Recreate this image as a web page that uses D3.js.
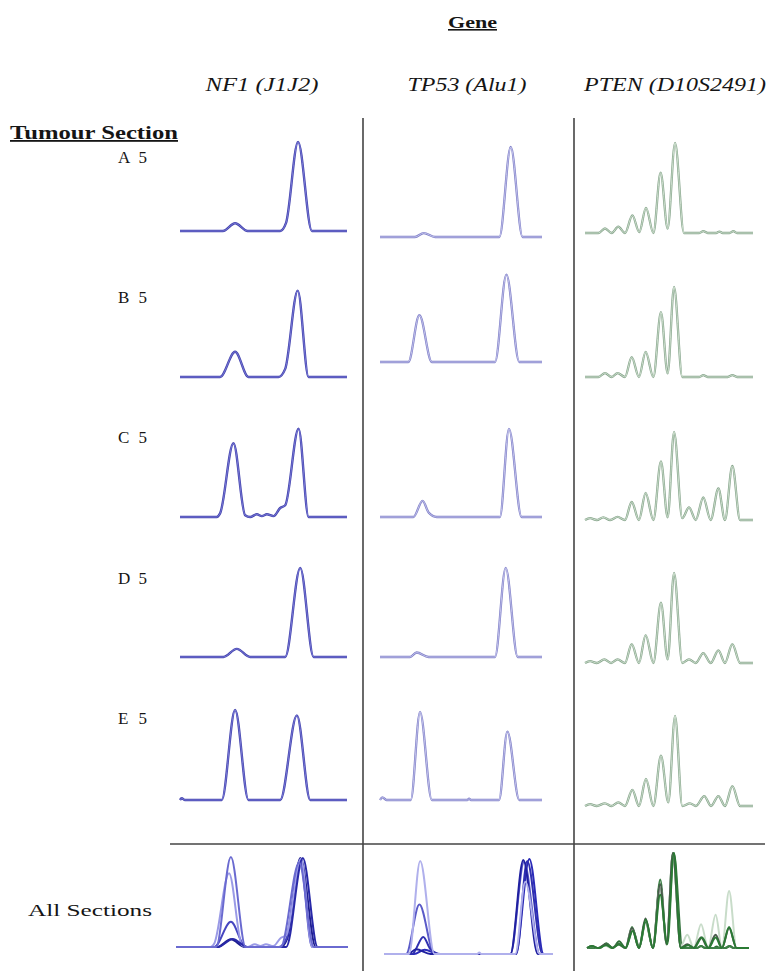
<!DOCTYPE html>
<html>
<head>
<meta charset="utf-8">
<script src="https://cdn.jsdelivr.net/npm/d3@7"></script>
<style>
body { margin: 0; background: #fff; }
text { font-family: "Liberation Serif", "Times New Roman", serif; fill: #151515; }
</style>
</head>
<body>
<svg id="chart"></svg>
<script>
// labels
var title = "Gene";
var rowTitle = "Tumour Section";
var genes = ["NF1 (J1J2)", "TP53 (Alu1)", "PTEN (D10S2491)"];
var sections = ["A 5", "B 5", "C 5", "D 5", "E 5"];
var allLabel = "All Sections";

// traces: [size position (% of window), signal (% of panel max)]
var nf1A = [[0,0],[25.7,0],[33,8.6],[40.5,0],[60,0],[63.5,9],[70.7,99],[79,0],[100,0]];
var nf1B = [[0,0],[24,0],[33,28],[41,0],[59,0],[63,9],[70.5,96],[77,0],[100,0]];
var nf1C = [[0,0],[22,0],[24,4],[32,82],[39,2],[42,0],[46,3],[49,1],[52,3],[56,1],[60,10],[63,13],[71,98],[77,0],[100,0]];
var nf1D = [[0,0],[26,0],[34,9],[42,0],[63,0],[72,99],[80,0],[100,0]];
var nf1E = [[0,0],[1,2],[3,0],[25,0],[33,100],[41,0],[60,0],[70,94],[78,0],[100,0]];

var tp53A = [[0,0],[21.6,0],[27,4.4],[34,0],[73.7,0],[80.7,100],[88,0],[100,0]];
var tp53B = [[0,0],[17.5,0],[24.3,52],[32,0],[71,0],[78,97],[86,0],[100,0]];
var tp53C = [[0,0],[20.6,0],[26.3,18],[30,5],[35,0],[74,0],[79.6,98],[87.4,0],[100,0]];
var tp53D = [[0,0],[18.5,0],[22.6,5],[30,0],[71,0],[77.6,99],[85,0],[100,0]];
var tp53E = [[0,0],[1.5,3],[4,0],[19,0],[24.7,98],[32,0],[54,0],[55,1.5],[56,0],[73.5,0],[78.6,76],[86,0],[100,0]];

var ptenA = [[0,0],[8,0],[11.9,5],[15.9,0],[19.8,7],[23.8,0],[28.2,19.5],[32.3,1],[36.3,28],[40.7,0],[45,67],[49.2,5],[53.6,100],[58.9,0],[68,0],[70.4,2],[73,0],[78,0],[80,1.5],[82,0],[86,0],[88.3,2],[90.5,0],[100,0]];
var ptenB = [[0,0],[8,0],[11.9,4.4],[15.9,0],[19.4,4.4],[23.8,0],[27.8,22],[32.1,0],[36.1,28],[40.7,0],[45.2,72],[49.2,4],[53,100],[57.9,0],[68,0],[70.4,2],[73,0],[85,0],[87.7,2],[90.5,0],[100,0]];
var ptenC = [[0,0],[3,2],[7,0],[10.9,3],[15,0],[19.4,3.5],[23.8,0],[27.8,20],[32.1,0],[36.1,30],[40.7,0],[45.2,65],[49.2,3],[53,98],[57.9,2],[61.9,14],[65.9,0],[70.4,25],[74.8,0],[79.4,35],[83.3,0],[87.7,60],[92.3,0],[100,0]];
var ptenD = [[0,0],[3,2],[7,0],[11.5,4],[15.5,0],[19.4,4],[23.8,0],[27.8,21],[32.1,0],[36.1,31],[40.7,0],[45.2,67],[49.2,4],[53,100],[57.9,0],[61.9,4],[65.9,0],[70.4,11],[74.8,0],[79.4,14],[83.3,0],[87.7,21],[92.3,0],[100,0]];
var ptenE = [[0,0],[3,2],[7,0],[11.9,3],[15.9,0],[19.8,4],[23.8,0],[28.2,18],[32.1,0],[36.3,30],[40.7,0],[45.2,56],[49.6,4],[53.6,100],[57.9,0],[62.5,3],[66,0],[71,11],[75,0],[79.4,11],[83.3,0],[87.7,22],[92.3,0],[100,0]];

var traces = [
  [nf1A, nf1B, nf1C, nf1D, nf1E],
  [tp53A, tp53B, tp53C, tp53D, tp53E],
  [ptenA, ptenB, ptenC, ptenD, ptenE]
];

var width = 774,
  height = 971;

// layout
var colX = [[180, 347], [380, 542], [585, 753]];
var rowBase = [[231, 377, 517, 657, 800], [237, 362, 517, 657, 800], [233, 377, 520, 663, 806]];
var rowPeak = 90;
var allX = [[170, 354.5], [372, 567], [587, 749]];
var allClip = [[176, 348], [384, 553], [585, 754]];
var allBase = [947, 954, 948];
var allPeak = [90, 95, 95];
var labelY = [163, 303, 443, 584, 724];
var headX = [262, 467, 675];
var headW = [113, 119, 182];

var styles = [
  {under: "#4444ae", over: "#8484de", w: 2.4},
  {under: "#8080c8", over: "#d0d0f2", w: 2.3},
  {under: "#87a58c", over: "#dcebdc", w: 2.3}
];
var overlay = [
  ["#1f1f8f", "#4646c0", "#9a9ae6", "#2828a8", "#6a6ad0"],
  ["#2a2ab8", "#5a5ac8", "#3030b0", "#2020a0", "#b0b0ec"],
  ["#2f6f38", "#3d7f46", "#c8dcc9", "#4a5a4c", "#2a7a34"]
];

var svg = d3.select("#chart")
  .attr("width", width)
  .attr("height", height);

// grid lines
svg.selectAll(".vline").data([363, 574])
  .enter().append("line")
  .attr("class", "vline")
  .attr("x1", function(d) { return d; })
  .attr("x2", function(d) { return d; })
  .attr("y1", 118)
  .attr("y2", height)
  .attr("stroke", "#444")
  .attr("stroke-width", 1.6);

svg.append("line")
  .attr("x1", 170).attr("x2", 765)
  .attr("y1", 844).attr("y2", 844)
  .attr("stroke", "#444")
  .attr("stroke-width", 1.6);

// titles
svg.append("text")
  .attr("x", 448).attr("y", 28)
  .attr("textLength", 49)
  .attr("lengthAdjust", "spacingAndGlyphs")
  .style("font-size", "16px")
  .style("font-weight", "bold")
  .style("text-decoration", "underline")
  .text(title);

svg.selectAll(".gene").data(genes)
  .enter().append("text")
  .attr("class", "gene")
  .attr("x", function(d, i) { return headX[i] - headW[i] / 2; })
  .attr("y", 91)
  .attr("textLength", function(d, i) { return headW[i]; })
  .attr("lengthAdjust", "spacingAndGlyphs")
  .style("font-size", "18px")
  .style("font-style", "italic")
  .text(function(d) { return d; });

svg.append("text")
  .attr("x", 10).attr("y", 139)
  .attr("textLength", 168)
  .attr("lengthAdjust", "spacingAndGlyphs")
  .style("font-size", "18px")
  .style("font-weight", "bold")
  .style("text-decoration", "underline")
  .text(rowTitle);

svg.selectAll(".sec").data(sections)
  .enter().append("text")
  .attr("class", "sec")
  .attr("x", 118)
  .attr("y", function(d, i) { return labelY[i]; })
  .attr("textLength", 29)
  .attr("lengthAdjust", "spacing")
  .style("font-size", "17px")
  .text(function(d) { return d; });

svg.append("text")
  .attr("x", 28).attr("y", 916)
  .attr("textLength", 124)
  .attr("lengthAdjust", "spacingAndGlyphs")
  .style("font-size", "17px")
  .text(allLabel);

// single-section traces
genes.forEach(function(gene, g) {
  sections.forEach(function(sec, s) {
    var x = d3.scaleLinear().domain([0, 100]).range(colX[g]);
    var y = d3.scaleLinear().domain([0, 100]).range([rowBase[g][s], rowBase[g][s] - rowPeak]);
    var line = d3.line()
      .x(function(d) { return x(d[0]); })
      .y(function(d) { return y(d[1]); })
      .curve(d3.curveMonotoneX);
    var cell = svg.append("g").attr("class", "cell");
    cell.append("path")
      .attr("d", line(traces[g][s]))
      .attr("fill", "none")
      .attr("stroke", styles[g].under)
      .attr("stroke-width", styles[g].w)
      .attr("stroke-linejoin", "round");
    cell.append("path")
      .attr("d", line(traces[g][s]))
      .attr("fill", "none")
      .attr("stroke", styles[g].over)
      .attr("stroke-width", 0.8)
      .attr("stroke-linejoin", "round");
  });
});

// all sections overlay
var defs = svg.append("defs");
genes.forEach(function(gene, g) {
  defs.append("clipPath").attr("id", "clip" + g)
    .append("rect")
    .attr("x", allClip[g][0])
    .attr("y", 846)
    .attr("width", allClip[g][1] - allClip[g][0])
    .attr("height", 120);

  var x = d3.scaleLinear().domain([0, 100]).range(allX[g]);
  var y = d3.scaleLinear().domain([0, 100]).range([allBase[g], allBase[g] - allPeak[g]]);
  var line = d3.line()
    .x(function(d) { return x(d[0]); })
    .y(function(d) { return y(d[1]); })
    .curve(d3.curveMonotoneX);

  svg.append("g")
    .attr("clip-path", "url(#clip" + g + ")")
    .selectAll("path").data(traces[g])
    .enter().append("path")
    .attr("d", line)
    .attr("fill", "none")
    .attr("stroke", function(d, i) { return overlay[g][i]; })
    .attr("stroke-width", 2)
    .attr("stroke-linejoin", "round");
});
</script>
</body>
</html>
